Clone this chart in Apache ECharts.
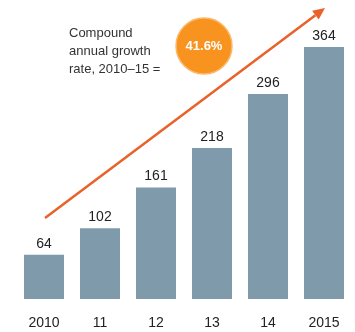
<!DOCTYPE html>
<html>
<head>
<meta charset="utf-8">
<script src="https://cdn.jsdelivr.net/npm/echarts@6/dist/echarts.min.js"></script>
<style>
  html, body { margin: 0; padding: 0; background: #fff; }
  #chart { width: 355px; height: 332px; }
</style>
</head>
<body>
<div id="chart"></div>
<script>
// data
var years = ['2010', '11', '12', '13', '14', '2015'];
var values = [64, 102, 161, 218, 296, 364];
var cagrText = '41.6%';

var chart = echarts.init(document.getElementById('chart'));

// arrow geometry (decoration)
var tail = [45, 218], tip = [325, 8];
var dx = tip[0] - tail[0], dy = tip[1] - tail[1];
var len = Math.sqrt(dx * dx + dy * dy);
var ux = dx / len, uy = dy / len;
var headLen = 12, headW = 5.5;
var bx = tip[0] - headLen * ux, by = tip[1] - headLen * uy;

var option = {
  animation: false,
  grid: { left: 16, right: 3, top: 22, bottom: 33 },
  xAxis: {
    type: 'category',
    data: years,
    axisLine: { show: false },
    axisTick: { show: false },
    axisLabel: { color: '#222', fontSize: 14, fontFamily: 'Arial, Liberation Sans', margin: 17 }
  },
  yAxis: {
    type: 'value',
    min: 0,
    max: 400,
    show: false
  },
  series: [{
    type: 'bar',
    data: values,
    barWidth: 40,
    itemStyle: { color: '#7f9bab' },
    label: {
      show: true,
      position: 'top',
      distance: 4,
      color: '#222',
      fontSize: 14,
      fontFamily: 'Arial, Liberation Sans'
    }
  }],
  graphic: [
    {
      type: 'line',
      shape: { x1: tail[0], y1: tail[1], x2: bx, y2: by },
      style: { stroke: '#e8622a', lineWidth: 2.5 }
    },
    {
      type: 'polygon',
      shape: { points: [tip, [bx - headW * uy, by + headW * ux], [bx + headW * uy, by - headW * ux]] },
      style: { fill: '#e8622a' }
    },
    {
      type: 'circle',
      shape: { cx: 204, cy: 46, r: 28 },
      style: { fill: '#f7931e', stroke: '#fbb86a', lineWidth: 1.5 }
    },
    {
      type: 'text',
      x: 204, y: 46,
      style: {
        text: cagrText,
        fill: '#fff',
        font: 'bold 13px Arial, Liberation Sans',
        align: 'center',
        verticalAlign: 'middle'
      }
    },
    {
      type: 'text',
      x: 69, y: 24,
      style: {
        text: 'Compound\nannual growth\nrate, 2010–15 =',
        fill: '#333',
        font: '13px Arial, Liberation Sans',
        lineHeight: 18
      }
    }
  ]
};

chart.setOption(option);
</script>
</body>
</html>
